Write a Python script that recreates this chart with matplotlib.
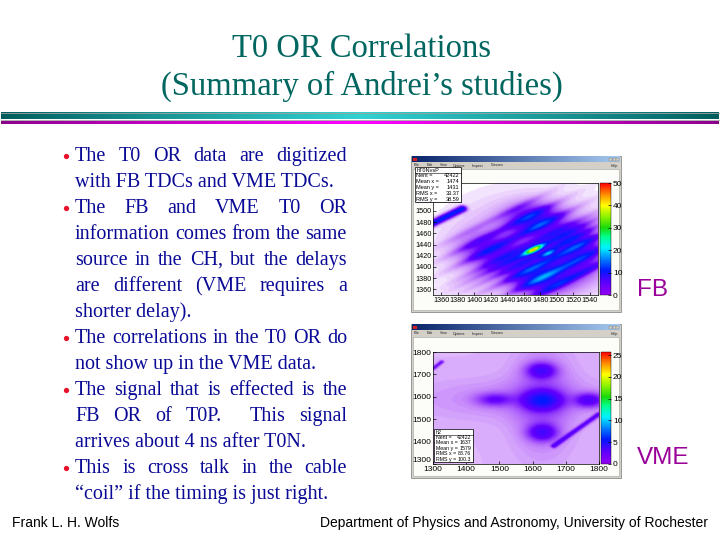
import numpy as np
import matplotlib
matplotlib.use("Agg")
import matplotlib.pyplot as plt
from matplotlib.colors import LinearSegmentedColormap, ListedColormap, Normalize
from matplotlib.patches import Rectangle
import matplotlib.cm as cm

# ---------------- text content ----------------
title_lines = ["T0 OR Correlations", "(Summary of Andrei\u2019s studies)"]
bullets = [
    ["The T0 OR data are digitized", "with FB TDCs and VME TDCs."],
    ["The FB and VME T0 OR", "information comes from the same",
     "source in the CH, but the delays", "are different (VME requires a",
     "shorter delay)."],
    ["The correlations in the T0 OR do", "not show up in the VME data."],
    ["The signal that is effected is the", "FB OR of T0P.  This signal",
     "arrives about 4 ns after T0N."],
    ["This is cross talk in the cable",
     "\u201ccoil\u201d if the timing is just right."],
]
footer_left = "Frank L. H. Wolfs"
footer_right = "Department of Physics and Astronomy, University of Rochester"
panel_labels = ["FB", "VME"]

# ---------------- FB histogram (hT0NvsP) ----------------
fb_xrange = [1350, 1550]
fb_yrange = [1350, 1550]
fb_xticks = [1360, 1380, 1400, 1420, 1440, 1460, 1480, 1500, 1520, 1540]
fb_yticks = [1360, 1380, 1400, 1420, 1440, 1460, 1480, 1500]
fb_cticks = [0, 10, 20, 30, 40, 50]
fb_zmax = 50
fb_name = "hT0NvsP"
fb_stats = [("Nent", "42422"), ("Mean x", "1474"), ("Mean y", "1431"),
            ("RMS x", "33.37"), ("RMS y", "38.59")]
# broad clusters (centre x, centre y, sigma x, sigma y, counts/bin)
fb_blob_x = [1474, 1478, 1527, 1420, 1472, 1505]
fb_blob_y = [1483, 1380, 1432, 1430, 1431, 1395]
fb_blob_sx = [21, 21, 19, 23, 60, 25]
fb_blob_sy = [18, 18, 23, 19, 55, 20]
fb_blob_n = [11, 11, 9, 7, 4.5, 5]
# diagonal stripes: slope and vertical offsets relative to the hot spot
fb_center = [1472, 1431]
fb_slope = 0.72
fb_stripe_v = [-85, -58, -32, -14, 0, 12, 38, 64, 90]
fb_stripe_s = [0.8, 0.55, 0.6, 0.6, 0.8, 0.6, 0.55, 0.5, 0.45]
fb_stripe_w = 4.5
fb_stripe_floor = 0.6
# hot spots on the stripes (x, y, sigma along, sigma across, counts)
fb_spot_x = [1472, 1490]
fb_spot_y = [1431, 1424]
fb_spot_su = [9, 7]
fb_spot_sv = [2.8, 2.5]
fb_spot_n = [36, 13]
# isolated band at upper left (x0, y0, x1, y1, width, counts)
fb_band = [(1346, 1476, 1385, 1504, 3.5, 11)]

# ---------------- VME histogram (h2) ----------------
vme_xrange = [1300, 1800]
vme_yrange = [1300, 1800]
vme_xticks = [1300, 1400, 1500, 1600, 1700, 1800]
vme_yticks = [1300, 1400, 1500, 1600, 1700, 1800]
vme_cticks = [0, 5, 10, 15, 20, 25]
vme_zmax = 25.7
vme_name = "h2"
vme_stats = [("Nent", "42422"), ("Mean x", "1637"), ("Mean y", "1579"),
             ("RMS x", "88.76"), ("RMS y", "100.3")]
vme_blob_x = [1630, 1627, 1630, 1485, 1772, 1630, 1560]
vme_blob_y = [1585, 1718, 1440, 1588, 1585, 1580, 1590]
vme_blob_sx = [38, 30, 30, 38, 30, 60, 200]
vme_blob_sy = [28, 24, 26, 20, 22, 150, 60]
vme_blob_n = [3.8, 2.6, 2.6, 1.7, 2.5, 1.0, 0.5]
vme_background = 0.5
vme_band = [(1665, 1380, 1800, 1522, 6, 2.5), (1300, 1728, 1325, 1757, 5, 2.0)]

# ---------------- helpers ----------------
W, H = 720, 540
fig = plt.figure(figsize=(7.2, 5.4), dpi=100)
fig.patch.set_facecolor("white")


def fr(x0, y0, x1, y1):
    return [x0 / W, 1 - y1 / H, (x1 - x0) / W, (y1 - y0) / H]


slide = fig.add_axes([0, 0, 1, 1])
slide.axis("off")


def gauss2(X, Y, x0, y0, sx, sy):
    return np.exp(-0.5 * (((X - x0) / sx) ** 2 + ((Y - y0) / sy) ** 2))


def segment(X, Y, x0, y0, x1, y1, w, a):
    dx, dy = x1 - x0, y1 - y0
    t = np.clip(((X - x0) * dx + (Y - y0) * dy) / (dx * dx + dy * dy), 0, 1)
    d2 = (X - (x0 + t * dx)) ** 2 + (Y - (y0 + t * dy)) ** 2
    return a * np.exp(-0.5 * d2 / w ** 2)


# palette like ROOT's default rainbow
pal_nodes = [(0.0, (0.58, 0.0, 0.95)), (0.12, (0.35, 0.0, 1.0)),
             (0.22, (0.0, 0.1, 1.0)), (0.32, (0.0, 0.5, 1.0)),
             (0.42, (0.0, 0.95, 1.0)), (0.52, (0.0, 1.0, 0.55)),
             (0.6, (0.1, 0.85, 0.05)), (0.7, (0.55, 0.95, 0.0)),
             (0.8, (1.0, 1.0, 0.0)), (0.9, (1.0, 0.55, 0.0)),
             (1.0, (1.0, 0.0, 0.0))]
cmap_bar = LinearSegmentedColormap.from_list("rootpal", pal_nodes)
tt = np.linspace(0, 1, 256)
base = cmap_bar(tt)[:, :3]
fade = np.clip(tt / 0.1, 0, 1) ** 0.7
img_cols = 1 - (1 - base) * fade[:, None]
cmap_img = ListedColormap(img_cols)

# ---------------- title ----------------
title_col = "#00665f"
slide.text(362, 57, title_lines[0], ha="center", va="baseline", fontsize=23.5,
           family="Liberation Serif", color=title_col)
slide.text(362, 95, title_lines[1], ha="center", va="baseline", fontsize=23.5,
           family="Liberation Serif", color=title_col)

# decorative bands
gx = np.linspace(0, 1, 400)
g = np.clip(1 - np.abs(2 * gx - 1), 0, 1) ** 0.9
dark = np.array([0.0, 0.36, 0.36])
bright = np.array([0.2, 0.82, 0.82])
band_img = (dark[None, :] * (1 - g[:, None]) + bright[None, :] * g[:, None])[None, :, :]
slide.imshow(band_img, extent=(1, 719, 119.5, 113), aspect="auto", zorder=2)
slide.add_line(plt.Line2D([1, 719], [113, 113], color="#a0a0a0", lw=0.6, zorder=3))
slide.add_line(plt.Line2D([1, 719], [119.5, 119.5], color="#a0a0a0", lw=0.6, zorder=3))
mdark = np.array([0.55, 0.0, 0.55])
mbright = np.array([1.0, 0.0, 1.0])
mag_img = (mdark[None, :] * (1 - g[:, None]) + mbright[None, :] * g[:, None])[None, :, :]
slide.imshow(mag_img, extent=(1, 719, 124.5, 122), aspect="auto", zorder=2)

# ---------------- bullets ----------------
renderer = fig.canvas.get_renderer()
text_col = "#0a0a96"
tkw = dict(fontsize=14.5, family="Liberation Serif", color=text_col, va="baseline")
x_left, x_right = 75, 347
line = 0
for para in bullets:
    slide.plot([65.5], [161 + 26 * line - 5], marker="o", ms=3.8, color="#e8102a",
               mec="none", zorder=4)
    for k, ln in enumerate(para):
        yb = 161 + 26 * line
        if k == len(para) - 1:
            slide.text(x_left, yb, ln, **tkw)
        else:
            words = ln.split(" ")
            objs = [slide.text(0, yb, w, **tkw) for w in words]
            widths = [o.get_window_extent(renderer).width if w else 0.0
                      for o, w in zip(objs, words)]
            gap = (x_right - x_left - sum(widths)) / (len(words) - 1)
            xx = x_left
            for o, wd in zip(objs, widths):
                o.set_x(xx)
                xx += wd + gap
        line += 1

# ---------------- footer ----------------
slide.text(12, 527, footer_left, fontsize=10, family="Liberation Sans",
           va="baseline", color="black")
slide.text(708, 527, footer_right, fontsize=10, family="Liberation Sans",
           va="baseline", ha="right", color="black")
slide.text(637, 296, panel_labels[0], fontsize=17.5, family="Liberation Sans",
           va="baseline", color="#990099")
slide.text(637, 464, panel_labels[1], fontsize=17.5, family="Liberation Sans",
           va="baseline", color="#990099")


# ---------------- window frames ----------------
def draw_window(x0, y0, x1, y1):
    slide.add_patch(Rectangle((x0, y0), x1 - x0, y1 - y0, fc="#d4d0c8",
                              ec="#8a8a8a", lw=0.6, zorder=2))
    c0 = np.array([0.04, 0.14, 0.42])
    c1 = np.array([0.65, 0.79, 0.94])
    gg = np.linspace(0, 1, 100)
    tb = (c0[None, :] * (1 - gg[:, None]) + c1[None, :] * gg[:, None])[None, :, :]
    slide.imshow(tb, extent=(x0 + 1, x1 - 1, y0 + 6.5, y0 + 1), aspect="auto", zorder=3)
    slide.add_patch(Rectangle((x0 + 2, y0 + 1.8), 3.5, 3.5, fc="#d02020", ec="none", zorder=4))
    for i in range(3):
        slide.add_patch(Rectangle((x1 - 12 + 3.6 * i, y0 + 1.8), 3.0, 3.2,
                                  fc="#d4d0c8", ec="#505050", lw=0.2, zorder=4))
    menu = ["File", "Edit", "View", "Options", "Inspect", "Classes"]
    mx = x0 + 3
    for m in menu:
        slide.text(mx, y0 + 10.5, m, fontsize=2.6, family="Liberation Sans",
                   color="#202020", va="baseline", zorder=4)
        mx += 4 + 2.2 * len(m)
    slide.text(x1 - 3, y0 + 10.5, "Help", fontsize=2.6, family="Liberation Sans",
               color="#202020", va="baseline", ha="right", zorder=4)
    slide.add_patch(Rectangle((x0 + 2, y0 + 13), x1 - x0 - 4, y1 - y0 - 15,
                              fc="#fcfcf8", ec="#a0a0a0", lw=0.4, zorder=3))


draw_window(411, 156, 621, 312)
draw_window(411, 324, 621, 478)

slide.set_xlim(0, W)
slide.set_ylim(H, 0)

# ---------------- densities ----------------
fx = np.linspace(fb_xrange[0], fb_xrange[1], 201)
fy = np.linspace(fb_yrange[0], fb_yrange[1], 201)
FX, FY = np.meshgrid(fx, fy)
env = np.zeros_like(FX)
for bx, by, sx, sy, n in zip(fb_blob_x, fb_blob_y, fb_blob_sx, fb_blob_sy, fb_blob_n):
    env += n * gauss2(FX, FY, bx, by, sx, sy)
V = (FY - fb_center[1]) - fb_slope * (FX - fb_center[0])
mod = np.full_like(FX, fb_stripe_floor)
for v0, s in zip(fb_stripe_v, fb_stripe_s):
    mod += s * np.exp(-0.5 * ((V - v0) / fb_stripe_w) ** 2)
fb_D = env * mod
nrm = np.sqrt(1 + fb_slope ** 2)
for sx0, sy0, su, sv, n in zip(fb_spot_x, fb_spot_y, fb_spot_su, fb_spot_sv, fb_spot_n):
    uu = ((FX - sx0) + fb_slope * (FY - sy0)) / nrm
    vv = ((FY - sy0) - fb_slope * (FX - sx0)) / nrm
    fb_D += n * np.exp(-0.5 * ((uu / su) ** 2 + (vv / sv) ** 2))
for b in fb_band:
    fb_D += segment(FX, FY, *b)

vx = np.linspace(vme_xrange[0], vme_xrange[1], 201)
vy = np.linspace(vme_yrange[0], vme_yrange[1], 201)
VX, VY = np.meshgrid(vx, vy)
vme_D = np.full_like(VX, vme_background)
for bx, by, sx, sy, n in zip(vme_blob_x, vme_blob_y, vme_blob_sx, vme_blob_sy, vme_blob_n):
    vme_D += n * gauss2(VX, VY, bx, by, sx, sy)
for b in vme_band:
    vme_D += segment(VX, VY, *b)


# ---------------- histogram panels ----------------
def panel(rect, crect, D, xr, yr, xt, yt, ct, zmax, lsize, lift_first):
    ax = fig.add_axes(fr(*rect))
    ax.imshow(D, extent=(xr[0], xr[1], yr[0], yr[1]), origin="lower",
              aspect="auto", cmap=cmap_img, vmin=0, vmax=zmax,
              interpolation="bilinear")
    ax.set_xlim(xr)
    ax.set_ylim(yr)
    ax.set_xticks(xt)
    ax.set_yticks(yt)
    ax.set_xticklabels([str(v) for v in xt])
    ax.set_yticklabels([str(v) for v in yt])
    ax.tick_params(direction="in", length=2.5, width=0.5, pad=1.2,
                   labelsize=lsize)
    for lab in ax.get_xticklabels() + ax.get_yticklabels():
        lab.set_family("Liberation Sans")
    if lift_first:
        # lift the lowest y label slightly so it clears the first x label
        ax.get_yticklabels()[0].set_va("bottom")
    for sp in ax.spines.values():
        sp.set_linewidth(0.5)
    cax = fig.add_axes(fr(*crect))
    sm = cm.ScalarMappable(norm=Normalize(0, zmax), cmap=cmap_bar)
    cb = fig.colorbar(sm, cax=cax)
    cb.set_ticks(ct)
    cb.outline.set_linewidth(0.3)
    cax.tick_params(direction="in", length=2, width=0.5, pad=1.5, labelsize=6)
    for lab in cax.get_yticklabels():
        lab.set_family("Liberation Sans")
    return ax


panel((433, 183, 598, 295), (600, 183, 611, 295), fb_D, fb_xrange, fb_yrange,
      fb_xticks, fb_yticks, fb_cticks, fb_zmax, 5.2, False)
panel((433, 352, 599, 464), (601, 352, 611, 464), vme_D, vme_xrange, vme_yrange,
      vme_xticks, vme_yticks, vme_cticks, vme_zmax, 6, True)

# ---------------- stats boxes (overlay) ----------------
top = fig.add_axes([0, 0, 1, 1])
top.set_xlim(0, W)
top.set_ylim(H, 0)
top.axis("off")
top.patch.set_alpha(0)


def stats_box(x0, y0, x1, y1, name, rows, fs):
    top.add_patch(Rectangle((x0 + 1, y0 + 1), x1 - x0, y1 - y0, fc="#606060", ec="none"))
    top.add_patch(Rectangle((x0, y0), x1 - x0, y1 - y0, fc="white", ec="black", lw=0.5))
    lh = (y1 - y0) / (len(rows) + 1)
    skw = dict(fontsize=fs, family="Liberation Sans", color="black", va="center")
    top.text(x0 + 1.5, y0 + 0.55 * lh, name, **skw)
    top.plot([x0, x1], [y0 + lh, y0 + lh], color="black", lw=0.4)
    for i, (k, v) in enumerate(rows):
        yc = y0 + (i + 1.5) * lh
        top.text(x0 + 1.5, yc, k + " =", **skw)
        top.text(x1 - 1.5, yc, v, ha="right", **skw)


stats_box(415, 167, 461, 202, fb_name, fb_stats, 4.0)
stats_box(434, 429, 473, 462, vme_name, vme_stats, 3.8)

fig.savefig("out.png", dpi=100)
